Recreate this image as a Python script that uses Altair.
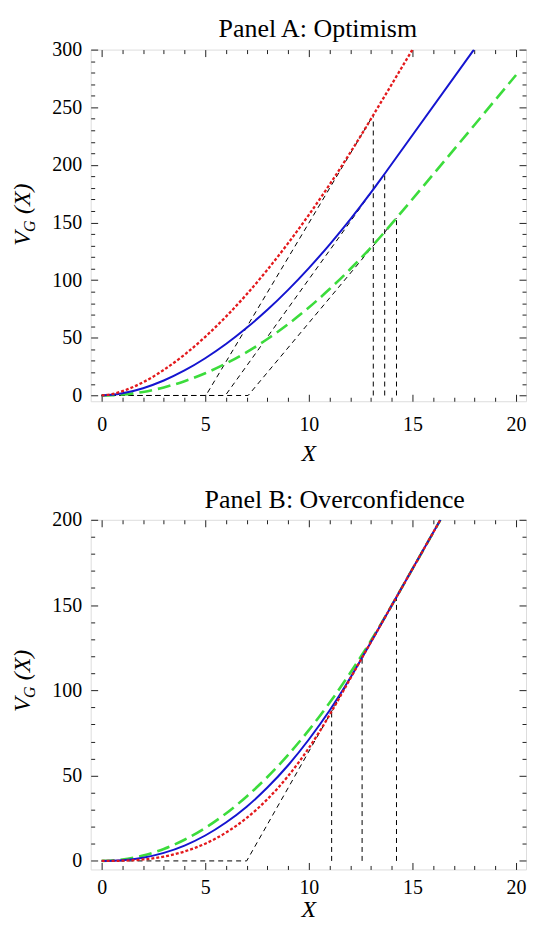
import altair as alt
import pandas as pd

SERIF = "Liberation Serif"
RED = "#e3191c"
BLUE = "#1515d0"
GREEN = "#3cdc3c"
INK = "#222222"

W = 437
H_A = 353
H_B = 351
X_DOMAIN = [-0.529, 20.48]

# ---------------- Panel A: Optimism ----------------
A_RED_X = [0, 0.5, 1, 2, 3, 4, 5, 6, 7, 8, 9, 10, 11, 12, 13, 13.11, 15.0]
A_RED_V = [0, 1.21, 3.73, 11.5, 22.2, 35.4, 50.9, 68.4, 87.8, 109.1, 132.1, 156.7, 182.9, 210.7, 239.9, 243.2, 300]
A_BLUE_X = [0, 0.5, 1, 2, 3, 4, 5, 6, 7, 8, 9, 10, 11, 12, 13, 13.66, 17.97]
A_BLUE_V = [0, 0.54, 1.85, 6.34, 13.0, 21.7, 32.3, 44.6, 58.7, 74.3, 91.6, 110.5, 130.9, 152.7, 176.1, 192.3, 300]
A_GREEN_X = [0, 0.5, 1, 2, 3, 4, 5, 6, 7, 8, 9, 10, 11, 12, 13, 14, 14.23, 20]
A_GREEN_V = [0, 0.2, 0.79, 3.1, 7.0, 12.4, 19.3, 27.7, 37.6, 49.0, 61.9, 76.3, 92.3, 109.7, 128.5, 149.0, 153.9, 278.0]
A_STRIKE = [5.03, 5.97, 7.07]
A_TRIGGER_X = [13.11, 13.66, 14.23]
A_TRIGGER_V = [243.2, 192.3, 153.9]

# ---------------- Panel B: Overconfidence ----------------
B_RED_X = [0, 0.5, 1, 2, 3, 4, 5, 6, 7, 8, 9, 10, 11, 11.1, 12.57, 14.23, 16.35]
B_RED_V = [0, 0.02, 0.13, 0.85, 2.55, 5.54, 10.1, 16.6, 25.2, 36.2, 49.8, 66.2, 85.6, 87.7, 119.2, 154.7, 200]
B_BLUE_X = [0, 0.5, 1, 2, 3, 4, 5, 6, 7, 8, 9, 10, 11, 12, 12.57, 14.23, 16.35]
B_BLUE_V = [0, 0.08, 0.39, 1.89, 4.71, 9.0, 14.9, 22.5, 31.8, 43.0, 56.1, 71.2, 88.2, 107.4, 119.2, 154.7, 200]
B_GREEN_X = [0, 0.5, 1, 2, 3, 4, 5, 6, 7, 8, 9, 10, 11, 12, 13, 14, 14.23, 16.35]
B_GREEN_V = [0, 0.2, 0.79, 3.13, 7.01, 12.4, 19.35, 27.8, 37.8, 49.2, 62.2, 76.7, 92.7, 110.3, 129.2, 149.8, 154.7, 200]
B_STRIKE = [7.0]
B_HOCKEY_END_X = [14.23]
B_HOCKEY_END_V = [154.7]
B_TRIGGER_X = [11.1, 12.57, 14.23]
B_TRIGGER_V = [87.7, 119.2, 154.7]

X_LABELS = [0, 5, 10, 15, 20]
X_MINOR = list(range(0, 21))


def curve_df(xs, vs):
    return pd.DataFrame({"x": xs, "v": vs})


def hockey_df(strikes, ends_x, ends_v):
    rows = []
    for i, (k, ex, ev) in enumerate(zip(strikes, ends_x, ends_v)):
        rows += [
            {"g": i, "o": 0, "x": 0, "v": 0},
            {"g": i, "o": 1, "x": k, "v": 0},
            {"g": i, "o": 2, "x": ex, "v": ev},
        ]
    return pd.DataFrame(rows)


def tick_axis(orient, vals, major, off):
    return alt.Axis(
        orient=orient, offset=off, values=vals, labels=False, domain=False,
        grid=False, title=None, tickColor=INK, tickWidth=1,
        tickSize={"condition": {"test": f"datum.value % {major} === 0", "value": 7}, "value": 4},
    )


def panel(title, title_x, title_y, H, ymax, ylabels, curves, hockey, trig_x, trig_v,
          ytitle_start, lab_pad, tit_pad):
    xs = alt.Scale(domain=X_DOMAIN, nice=False, zero=False)
    ys = alt.Scale(domain=[-5, ymax], nice=False, zero=False)
    yminor = list(range(0, ymax + 1, 10))

    hock = alt.Chart(hockey).mark_line(color="black", strokeWidth=1, strokeDash=[5, 4]).encode(
        x=alt.X("x:Q", scale=xs, axis=tick_axis("top", X_MINOR, 5, -H)),
        y=alt.Y("v:Q", scale=ys, axis=tick_axis("right", yminor, 50, -W)),
        detail="g:N", order="o:Q",
    )
    verts = alt.Chart(pd.DataFrame({"x": trig_x, "top": trig_v, "b": [0] * len(trig_x)})).mark_rule(
        color="black", strokeWidth=1, strokeDash=[5, 4]
    ).encode(
        x=alt.X("x:Q", scale=xs, axis=tick_axis("bottom", X_MINOR, 5, -H)),
        y=alt.Y("b:Q", scale=ys, axis=tick_axis("left", yminor, 50, -W)),
        y2="top:Q",
    )

    label_x = alt.Axis(
        orient="bottom", values=X_LABELS, ticks=False, domain=False, grid=False,
        labelFont=SERIF, labelFontSize=20, labelColor="black", labelPadding=lab_pad,
        title="X", titleFont=SERIF, titleFontSize=24, titleFontStyle="italic",
        titleFontWeight="normal", titleColor="black", titlePadding=tit_pad,
    )
    label_y = alt.Axis(
        orient="left", values=ylabels, ticks=False, domain=False, grid=False,
        labelFont=SERIF, labelFontSize=20, labelColor="black", labelPadding=9, title=None,
    )

    styles = {
        "green": dict(color=GREEN, strokeWidth=2.6, strokeDash=[13, 6]),
        "blue": dict(color=BLUE, strokeWidth=2),
        "red": dict(color=RED, strokeWidth=2.3, strokeDash=[3, 2]),
    }
    layers = [hock, verts]
    for name in ["green", "blue", "red"]:
        df = curves[name]
        ax_x = label_x if name == "blue" else None
        ax_y = label_y if name == "blue" else None
        layers.append(
            alt.Chart(df).mark_line(interpolate="monotone", clip=True, **styles[name]).encode(
                x=alt.X("x:Q", scale=xs, axis=ax_x),
                y=alt.Y("v:Q", scale=ys, axis=ax_y),
                order="x:Q",
            )
        )

    one = alt.Data(values=[{"k": 0}])
    layers.append(alt.Chart(one).mark_text(
        text=title, font=SERIF, fontSize=26, align="center", baseline="alphabetic",
        color="black").encode(x=alt.value(title_x), y=alt.value(title_y)))
    tx = -61
    layers.append(alt.Chart(one).mark_text(
        text="V", font=SERIF, fontSize=24, fontStyle="italic", angle=270, align="left",
        baseline="alphabetic", color="black").encode(x=alt.value(tx), y=alt.value(ytitle_start)))
    layers.append(alt.Chart(one).mark_text(
        text="G", font=SERIF, fontSize=16, fontStyle="italic", angle=270, align="left",
        baseline="alphabetic", color="black").encode(x=alt.value(tx + 5), y=alt.value(ytitle_start - 14)))
    layers.append(alt.Chart(one).mark_text(
        text="(X)", font=SERIF, fontSize=24, fontStyle="italic", angle=270, align="left",
        baseline="alphabetic", color="black").encode(x=alt.value(tx), y=alt.value(ytitle_start - 32)))

    return alt.layer(*layers).resolve_axis(x="independent", y="independent").properties(
        width=W, height=H,
    )


panel_a = panel(
    "Panel A: Optimism", 228, -13, H_A, 300, [0, 50, 100, 150, 200, 250, 300],
    {"red": curve_df(A_RED_X, A_RED_V), "blue": curve_df(A_BLUE_X, A_BLUE_V),
     "green": curve_df(A_GREEN_X, A_GREEN_V)},
    hockey_df(A_STRIKE, A_TRIGGER_X, A_TRIGGER_V), A_TRIGGER_X, A_TRIGGER_V, 197, 13, 7,
)
panel_b = panel(
    "Panel B: Overconfidence", 245, -12, H_B, 200, [0, 50, 100, 150, 200],
    {"red": curve_df(B_RED_X, B_RED_V), "blue": curve_df(B_BLUE_X, B_BLUE_V),
     "green": curve_df(B_GREEN_X, B_GREEN_V)},
    hockey_df(B_STRIKE, B_HOCKEY_END_X, B_HOCKEY_END_V), B_TRIGGER_X, B_TRIGGER_V, 193, 8, 0,
)

chart = alt.vconcat(panel_a, panel_b, spacing=20).properties(
    padding={"left": 2, "top": 5, "right": 0, "bottom": 0}
).configure_view(
    stroke=INK, strokeWidth=1
).configure(background="white")

chart.save("out.html", embed_options={"renderer": "svg", "actions": False})
